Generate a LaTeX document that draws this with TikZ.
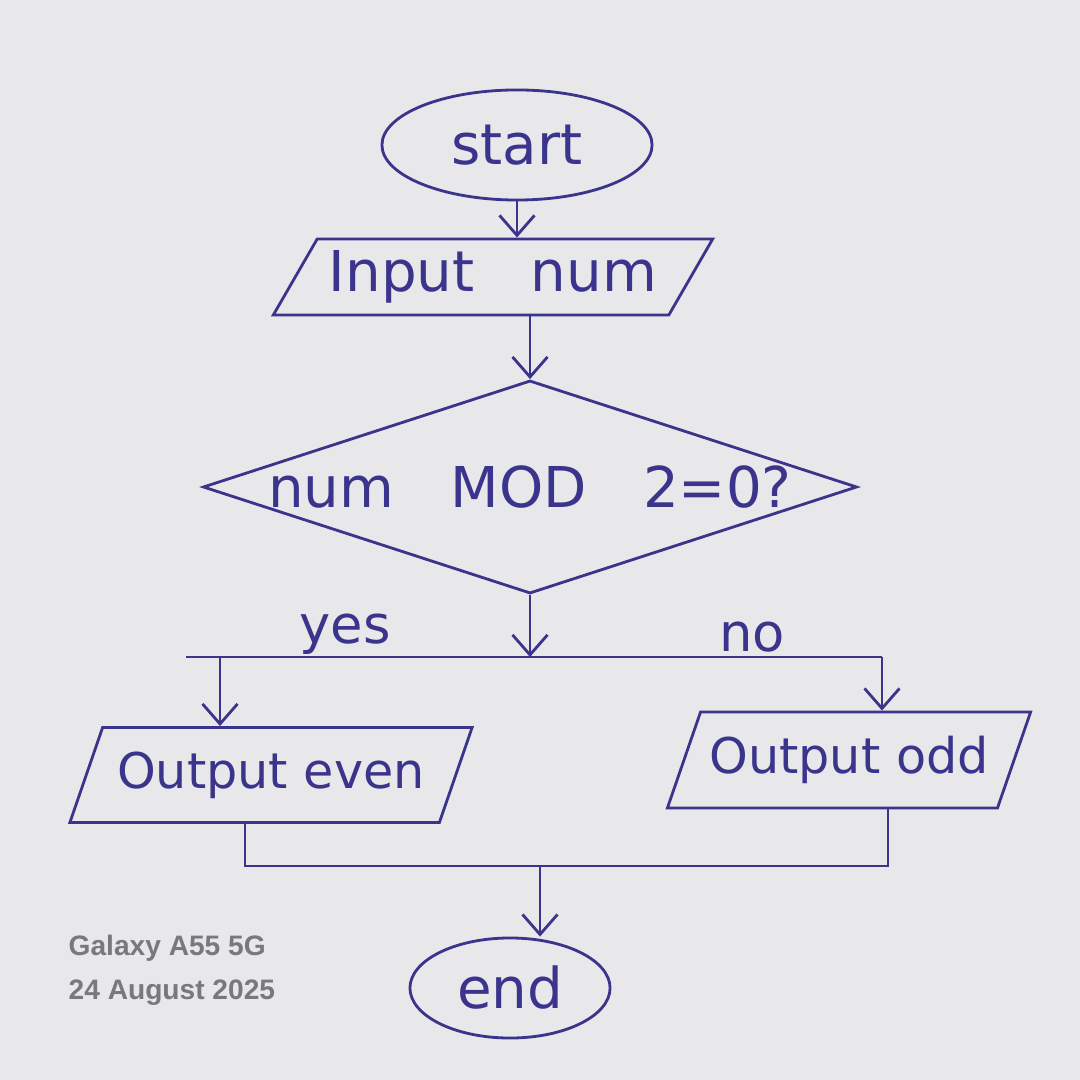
\documentclass[tikz,border=0pt]{standalone}
\usepackage{fontspec}
\setmainfont{DejaVu Sans}
\newfontfamily\stampfont{Liberation Sans}
\usetikzlibrary{positioning, arrows.meta, shapes.geometric}
\definecolor{ink}{RGB}{58, 52, 140}
\definecolor{paper}{RGB}{232, 232, 234}
\definecolor{stamp}{RGB}{120, 120, 125}
\tikzset{
    termnode/.style={ellipse, draw=ink, thick, text=ink, font=\fontsize{16}{19}\selectfont},
    ionode/.style={trapezium, trapezium left angle=60, trapezium right angle=120, trapezium stretches body, draw=ink, thick, text=ink, font=\fontsize{16}{19}\selectfont},
    outnode/.style={ionode, trapezium left angle=65, trapezium right angle=115, inner xsep=2pt, font=\fontsize{14}{17}\selectfont},
    decnode/.style={diamond, aspect=3.07, inner sep=0pt, draw=ink, thick, text=ink, font=\fontsize{16}{19}\selectfont},
    flow/.style={draw=ink, thick},
    arr/.style={flow, -{Straight Barb[length=2mm, width=3.5mm]}},
    lbl/.style={text=ink, font=\fontsize{15}{18}\selectfont},
    wmark/.style={text=stamp, font=\fontsize{8}{10}\selectfont\stampfont\bfseries, anchor=west, inner sep=0pt}
}

\begin{document}
\begin{tikzpicture}[x=0.01cm, y=-0.01cm]
    \fill[paper] (0,0) rectangle (1080,1080);

    % shapes
    \node[termnode, minimum width=2.7cm, minimum height=1.1cm] (start) at (517,145) {start};
    \node[ionode, minimum width=4.36cm, minimum height=0.73cm] (input) at (493,277) {Input\quad num};
    \node[decnode, minimum width=6.45cm, minimum height=2.1cm] (check) at (530,487) {num\quad MOD\quad 2=0?};
    \node[outnode, minimum width=4.02cm, minimum height=0.95cm] (even) at (271,775) {Output even};
    \node[outnode, minimum width=3.63cm, minimum height=0.96cm] (odd) at (849,760) {Output odd};
    \node[termnode, minimum width=2cm, minimum height=1cm] (end) at (510,988) {end};

    % branch and merge points
    \coordinate (bl) at (186,657);
    \coordinate (br) at (882,657);
    \coordinate (bel) at (220,657);
    \coordinate (ml) at (245,866);
    \coordinate (mr) at (888,866);
    \coordinate (mm) at (540,866);

    % connectors
    \draw[arr] (start.south) -- (start.south |- input.north);
    \draw[arr] (input.south -| check.north) -- (check.north);
    \draw[arr] (check.south) -- (check.south |- bl);
    \draw[flow] (bl) -- (br);
    \draw[arr] (bel) -- (bel |- even.north);
    \draw[arr] (br) -- (br |- odd.north);
    \draw[flow] (ml |- even.south) -- (ml) -- (mr) -- (mr |- odd.south);
    \draw[arr] (mm) -- (mm |- end.north);

    \node[lbl] (yes) at (345,634) {yes};
    \node[lbl] (no) at (752,637) {no};

    % photo stamp
    \node[wmark] (model) at (68,948) {Galaxy A55 5G};
    \node[wmark] (date) at (68,993) {24 August 2025};
\end{tikzpicture}
\end{document}
